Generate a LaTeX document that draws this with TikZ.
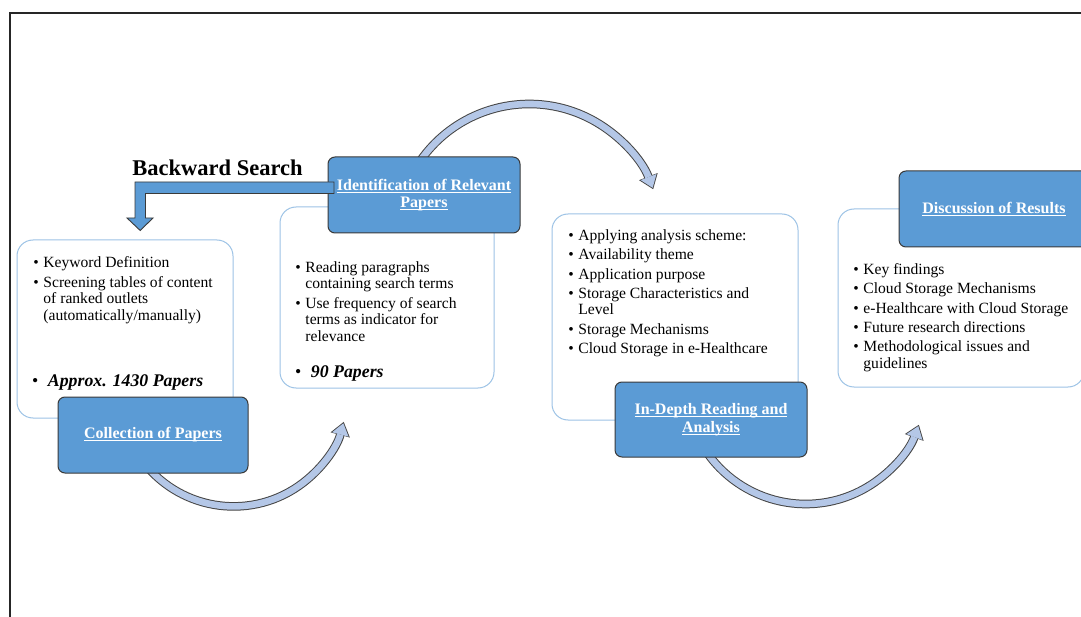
\documentclass[tikz,border=0pt]{standalone}
\usepackage{fontspec}
\setmainfont{Liberation Serif}
\usetikzlibrary{arrows.meta}
\definecolor{boxblue}{HTML}{5B9BD5}
\definecolor{boxedge}{HTML}{3A3A3A}
\definecolor{lightedge}{HTML}{9DC3E6}
\definecolor{arrowfill}{HTML}{B4C7E7}
\definecolor{arrowedge}{HTML}{454545}
\newcommand{\myul}[1]{\setbox0=\hbox{#1}\rlap{\rule[-2.4pt]{\wd0}{0.9pt}}\box0}
\tikzset{
  frameline/.style={draw=black!85, line width=1.8pt},
  panel/.style={draw=lightedge, line width=1pt, fill=white, rounded corners=16pt},
  stage/.style={draw=boxedge, line width=1pt, fill=boxblue, rounded corners=7pt,
    text=white, align=center, inner sep=0pt,
    font=\fontsize{16}{17.5}\selectfont\bfseries},
  body/.style={inner sep=0pt, anchor=base west, font=\fontsize{15.6}{16.5}\selectfont},
  count/.style={inner sep=0pt, anchor=base west, font=\fontsize{17.8}{20}\selectfont},
  flowout/.style={draw=arrowedge, line width=8.6pt,
    -{Triangle[width=20pt,length=13.5pt,line width=0pt]}},
  flowin/.style={draw=arrowfill, line width=6.6pt, shorten >=1.5pt,
    -{Triangle[width=17pt,length=11.5pt,line width=0pt]}},
  bwarrow/.style={fill=boxblue, draw=boxedge, line width=0.9pt, line join=miter},
}
\begin{document}
\begin{tikzpicture}[x=1pt,y=-1pt]
\useasboundingbox (0,0) rectangle (1081,617);
\fill[white] (0,0) rectangle (1081,617);
\draw[frameline] (10,620) -- (10,13) -- (1085,13);

% curved flow arrows (behind the boxes)
\coordinate (cA) at (233.6,392.4);
\coordinate (cB) at (529.2,236.8);
\coordinate (cC) at (805.7,383.6);
\draw[flowout] (cA) ++(145:114) arc[start angle=145,end angle=15,radius=114];
\draw[flowin]  (cA) ++(145:114) arc[start angle=145,end angle=15,radius=114];
\draw[flowout] (cB) ++(-150:132.8) arc[start angle=-150,end angle=-21,radius=132.8];
\draw[flowin]  (cB) ++(-150:132.8) arc[start angle=-150,end angle=-21,radius=132.8];
\draw[flowout] (cC) ++(150:120.4) arc[start angle=150,end angle=20,radius=120.4];
\draw[flowin]  (cC) ++(150:120.4) arc[start angle=150,end angle=20,radius=120.4];

% panels
\node[panel, minimum width=216pt, minimum height=178pt] (p1) at (125,329) {};
\node[panel, minimum width=214pt, minimum height=181pt] (p2) at (387,297.5) {};
\node[panel, minimum width=246pt, minimum height=206pt] (p3) at (675,317) {};
\node[panel, minimum width=246pt, minimum height=178pt] (p4) at (961,298) {};

% stage boxes
\node[stage, minimum width=190pt, minimum height=76pt] (coll) at (153,435) {\myul{Collection of Papers}};
\node[stage, minimum width=192pt, minimum height=76pt] (ident) at (424,195) {\myul{Identification of Relevant}\\\myul{Papers}};
\node[stage, minimum width=192pt, minimum height=75pt] (depth) at (711,419.5) {\myul{In-Depth Reading and}\\\myul{Analysis}};
\node[stage, minimum width=190pt, minimum height=76pt] (disc) at (994,209) {\myul{Discussion of Results}};

% backward search
\node[inner sep=0pt, anchor=base, font=\fontsize{22.5}{24}\selectfont\bfseries] (bw) at (217.5,176) {Backward Search};
\draw[bwarrow] (334,182) -- (135,182) -- (135,218) -- (127,218) -- (140.2,230.5) -- (153,218) -- (145.5,218) -- (145.5,193.5) -- (334,193.5) -- cycle;

% texts
\node[body] (t1) at (33.25,268) {\begin{tabular}[t]{@{}l@{\hspace{4.5pt}}l@{}}
\textbullet & Keyword Definition\\[2.8pt]
\textbullet & Screening tables of content\\
 & of ranked outlets\\
 & (automatically/manually)
\end{tabular}};
\node[count] (n1) at (32,386) {\textbullet\hspace{9.5pt}\textbf{\textit{Approx. 1430 Papers}}};

\node[body] (t2) at (295.25,272.5) {\begin{tabular}[t]{@{}l@{\hspace{4.5pt}}l@{}}
\textbullet & Reading paragraphs\\
 & containing search terms\\[2.8pt]
\textbullet & Use frequency of search\\
 & terms as indicator for\\
 & relevance
\end{tabular}};
\node[count] (n2) at (295,377.5) {\textbullet\hspace{9.5pt}\textbf{\textit{90 Papers}}};

\node[body] (t3) at (568.25,240.5) {\begin{tabular}[t]{@{}l@{\hspace{4.5pt}}l@{}}
\textbullet & Applying analysis scheme:\\[2.8pt]
\textbullet & Availability theme\\[2.8pt]
\textbullet & Application purpose\\[2.8pt]
\textbullet & Storage Characteristics and\\
 & Level\\[2.8pt]
\textbullet & Storage Mechanisms\\[2.8pt]
\textbullet & Cloud Storage in e-Healthcare
\end{tabular}};

\node[body] (t4) at (853.25,274.5) {\begin{tabular}[t]{@{}l@{\hspace{4.5pt}}l@{}}
\textbullet & Key findings\\[2.8pt]
\textbullet & Cloud Storage Mechanisms\\[2.8pt]
\textbullet & e-Healthcare with Cloud Storage\\[2.8pt]
\textbullet & Future research directions\\[2.8pt]
\textbullet & Methodological issues and\\
 & guidelines
\end{tabular}};
\end{tikzpicture}
\end{document}
